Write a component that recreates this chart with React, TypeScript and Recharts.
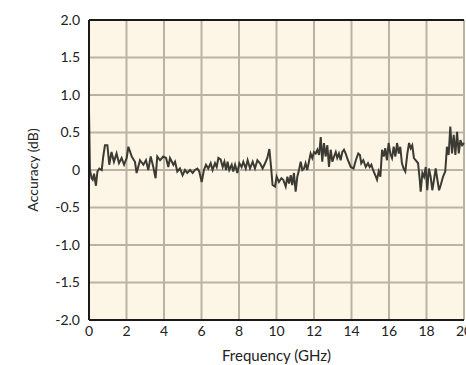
import React from 'react';
import {
    LineChart,
    Line,
    XAxis,
    YAxis,
    CartesianGrid,
    ReferenceLine
} from 'recharts';

const freqGHz = [
    0, 0.05, 0.14, 0.2, 0.27, 0.37, 0.45, 0.55, 0.68, 0.76, 0.85, 0.98,
    1.08, 1.2, 1.33, 1.47, 1.6, 1.74, 1.87, 2.01, 2.1, 2.28, 2.45, 2.54,
    2.72, 2.9, 3.04, 3.16, 3.29, 3.43, 3.55, 3.64, 3.79, 3.96, 4.11, 4.23,
    4.32, 4.5, 4.59, 4.71, 4.85, 4.99, 5.12, 5.24, 5.39, 5.53, 5.65, 5.78,
    5.88, 6.01, 6.13, 6.24, 6.36, 6.49, 6.59, 6.72, 6.81, 6.9, 7.02, 7.13,
    7.22, 7.31, 7.39, 7.48, 7.61, 7.69, 7.79, 7.91, 8.02, 8.14, 8.23, 8.36,
    8.46, 8.59, 8.73, 8.85, 8.98, 9.12, 9.26, 9.39, 9.51, 9.62, 9.71, 9.79,
    9.92, 10.01, 10.13, 10.26, 10.36, 10.49, 10.58, 10.67, 10.76, 10.84, 10.93, 11.02,
    11.11, 11.2, 11.29, 11.38, 11.47, 11.55, 11.64, 11.73, 11.82, 11.91, 12.0, 12.09,
    12.18, 12.27, 12.36, 12.44, 12.53, 12.62, 12.71, 12.8, 12.89, 12.98, 13.07, 13.16,
    13.24, 13.33, 13.42, 13.51, 13.6, 13.69, 13.81, 13.96, 14.11, 14.23, 14.36, 14.45,
    14.52, 14.63, 14.76, 14.88, 14.97, 15.06, 15.15, 15.27, 15.36, 15.45, 15.54, 15.63,
    15.72, 15.8, 15.89, 15.98, 16.07, 16.16, 16.25, 16.34, 16.43, 16.52, 16.6, 16.69,
    16.78, 16.87, 16.98, 17.07, 17.16, 17.24, 17.33, 17.42, 17.55, 17.64, 17.69, 17.78,
    17.87, 17.96, 18.04, 18.13, 18.22, 18.31, 18.4, 18.49, 18.58, 18.67, 18.76, 18.88,
    19.0, 19.09, 19.18, 19.27, 19.36, 19.45, 19.54, 19.63, 19.72, 19.81, 19.9, 20.0
];

const accuracyDb = [
    0.8, 0.0, -0.11, -0.13, -0.05, -0.21, -0.02, 0.02, 0.0, 0.18, 0.33, 0.33,
    0.07, 0.24, 0.11, 0.22, 0.09, 0.16, 0.07, 0.16, 0.31, 0.18, 0.11, -0.04,
    0.13, 0.07, 0.13, 0.0, 0.18, 0.04, -0.11, 0.18, 0.13, 0.18, 0.16, 0.04,
    0.16, 0.07, 0.11, -0.02, 0.02, -0.07, 0.0, -0.04, 0.0, -0.04, 0.0, 0.02,
    -0.02, -0.16, 0.0, 0.07, 0.02, 0.09, 0.0, 0.09, 0.04, 0.16, 0.14, 0.04,
    0.11, 0.0, 0.11, 0.0, 0.07, -0.02, 0.07, -0.04, 0.09, 0.04, 0.11, 0.02,
    0.13, 0.02, 0.11, 0.02, 0.13, 0.09, 0.02, 0.09, 0.16, 0.28, 0.04, -0.2,
    -0.22, -0.09, -0.16, -0.11, -0.13, -0.22, -0.09, -0.18, -0.07, -0.2, -0.04, -0.29,
    -0.09, 0.0, 0.11, 0.0, 0.02, 0.09, 0.0, 0.11, 0.22, 0.16, 0.24, 0.22,
    0.27, 0.2, 0.44, 0.11, 0.36, 0.18, 0.33, 0.04, 0.27, 0.11, 0.18, 0.24,
    0.16, 0.22, 0.13, 0.24, 0.27, 0.22, 0.13, 0.04, 0.02, 0.13, 0.22, 0.2,
    0.09, 0.13, 0.04, 0.09, 0.04, 0.07, 0.0, -0.07, -0.13, -0.02, -0.09, 0.27,
    0.18, 0.29, 0.13, 0.36, 0.22, 0.16, 0.31, 0.18, 0.36, 0.22, 0.31, 0.09,
    0.02, -0.02, 0.22, 0.36, 0.29, 0.33, 0.16, 0.13, 0.09, -0.13, -0.29, -0.04,
    -0.09, 0.04, -0.27, 0.02, -0.09, -0.27, -0.13, 0.02, -0.13, -0.27, -0.2, -0.09,
    -0.02, 0.31, 0.2, 0.58, 0.22, 0.47, 0.2, 0.51, 0.22, 0.4, 0.33, 0.36
];

const xTicks = [0, 2, 4, 6, 8, 10, 12, 14, 16, 18, 20];
const yTicks = [-2, -1.5, -1, -0.5, 0, 0.5, 1, 1.5, 2];

const data = freqGHz.map((f, i) => ({ freq: f, acc: accuracyDb[i] }));

const fontFamily = 'Lato, "Open Sans", sans-serif';
const tickStyle = { fontSize: 14, fill: '#222', fontFamily };

const formatY = (v: number) => (v === 0 ? '0' : v.toFixed(1));

export default function App() {
    return (
        <div style={{ position: 'absolute', left: 0, top: 0 }}>
            <LineChart
                width={520}
                height={365}
                data={data}
                margin={{ top: 20, right: 56, left: 0, bottom: 0 }}
            >
                <CartesianGrid fill="#fdf6e6" stroke="#bab3a3" strokeWidth={2} />
                <XAxis
                    dataKey="freq"
                    type="number"
                    domain={[0, 20]}
                    ticks={xTicks}
                    interval={0}
                    tickLine={false}
                    tickSize={0}
                    tickMargin={6}
                    height={45}
                    axisLine={{ stroke: '#1a1a1a', strokeWidth: 2 }}
                    tick={tickStyle}
                    label={{
                        value: 'Frequency (GHz)',
                        position: 'insideBottom',
                        offset: 4,
                        style: { fontSize: 15, fill: '#222', fontFamily }
                    }}
                />
                <YAxis
                    type="number"
                    domain={[-2, 2]}
                    ticks={yTicks}
                    interval={0}
                    tickFormatter={formatY}
                    tickLine={false}
                    tickSize={0}
                    tickMargin={9}
                    width={89}
                    axisLine={{ stroke: '#1a1a1a', strokeWidth: 2 }}
                    tick={tickStyle}
                    label={{
                        value: 'Accuracy (dB)',
                        angle: -90,
                        position: 'insideLeft',
                        offset: 33,
                        style: { textAnchor: 'middle', fontSize: 14, fill: '#222', fontFamily }
                    }}
                />
                <ReferenceLine y={2} stroke="#1a1a1a" strokeWidth={2} />
                <Line
                    type="linear"
                    dataKey="acc"
                    stroke="#3b3a33"
                    strokeWidth={2}
                    dot={false}
                    isAnimationActive={false}
                />
            </LineChart>
        </div>
    );
}
